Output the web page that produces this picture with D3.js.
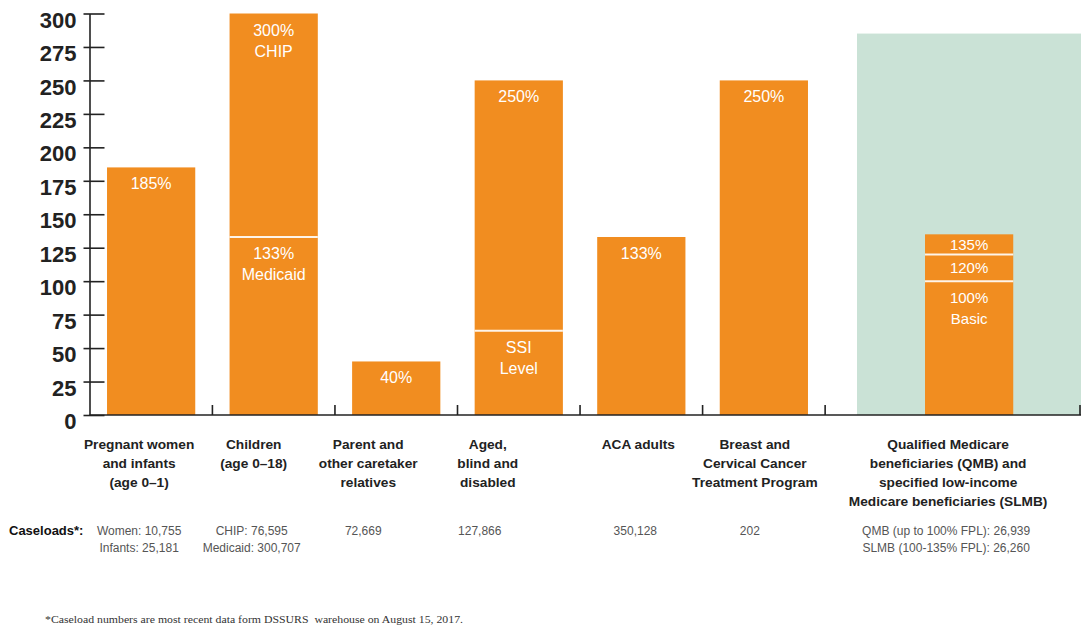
<!DOCTYPE html>
<html>
<head>
<meta charset="utf-8">
<script src="https://cdn.jsdelivr.net/npm/d3@7"></script>
<style>
  html, body { margin: 0; padding: 0; background: #fff; }
  svg { display: block; }
  text { font-family: "Liberation Sans", Arial, Helvetica, sans-serif; }
  text.footnote { font-family: "Liberation Serif", "Times New Roman", serif; }
</style>
</head>
<body>
<svg id="chart" width="1081" height="631"></svg>
<script>
// Income eligibility limits by program (% of federal poverty level)
const categories = [
  ["Pregnant women", "and infants", "(age 0\u20131)"],
  ["Children", "(age 0\u201318)"],
  ["Parent and", "other caretaker", "relatives"],
  ["Aged,", "blind and", "disabled"],
  ["ACA adults"],
  ["Breast and", "Cervical Cancer", "Treatment Program"],
  ["Qualified Medicare", "beneficiaries (QMB) and", "specified low-income", "Medicare beneficiaries (SLMB)"]
];

// Top of each bar
const limits = [185, 300, 40, 250, 133, 250, 135];

// Internal breakpoints inside a bar (bottom to top)
const splits = [[], [133], [], [63], [], [], [100, 120]];

// Text for each segment, bottom to top
const segmentLabels = [
  [["185%"]],
  [["133%", "Medicaid"], ["300%", "CHIP"]],
  [["40%"]],
  [["SSI", "Level"], ["250%"]],
  [["133%"]],
  [["250%"]],
  [["100%", "Basic"], ["120%"], ["135%"]]
];

const caseloads = [
  ["Women: 10,755", "Infants: 25,181"],
  ["CHIP: 76,595", "Medicaid: 300,707"],
  ["72,669"],
  ["127,866"],
  ["350,128"],
  ["202"],
  ["QMB (up to 100% FPL): 26,939", "SLMB (100-135% FPL): 26,260"]
];

const yTicks = [0, 25, 50, 75, 100, 125, 150, 175, 200, 225, 250, 275, 300];
const medicarePanelTop = 285;

const footnote = "*Caseload numbers are most recent data form DSSURS\u00a0 warehouse on August 15, 2017.";

// ---- layout ----
const ORANGE = "#F18D20";
const PANEL = "#CAE2D6";
const AXIS = "#222";
const labelNudge = [-12, -20, -28, -31, -3, -9, -21];
const caseNudge = [-12, -22, -33, -39, -6, -14, -23];

const svg = d3.select("#chart");
const y = d3.scaleLinear().domain([0, 300]).range([415, 13.5]);

// six regular programs share one band scale; Medicare programs sit in their own panel
const xMain = d3.scaleBand()
  .domain(d3.range(6))
  .range([89.5, 825.5])
  .paddingInner(0.28)
  .paddingOuter(0.143);
const xPanel = d3.scaleBand()
  .domain([6])
  .range([857, 1081])
  .padding(0.436);

const bx = i => i < 6 ? xMain(i) : xPanel(i);
const bw = xMain.bandwidth();

// Medicare panel background
svg.append("rect")
  .attr("x", xPanel.range()[0])
  .attr("y", y(medicarePanelTop))
  .attr("width", xPanel.range()[1] - xPanel.range()[0])
  .attr("height", y(0) - y(medicarePanelTop))
  .attr("fill", PANEL);

// bars
const bars = svg.append("g");
limits.forEach((v, i) => {
  bars.append("rect")
    .attr("x", bx(i))
    .attr("y", y(v))
    .attr("width", bw)
    .attr("height", y(0) - y(v))
    .attr("fill", ORANGE);
  splits[i].forEach(s => {
    bars.append("line")
      .attr("x1", bx(i)).attr("x2", bx(i) + bw)
      .attr("y1", y(s)).attr("y2", y(s))
      .attr("stroke", "#fff").attr("stroke-opacity", 0.9)
      .attr("stroke-width", 2);
  });
  // segment labels
  const edges = [0, ...splits[i], v];
  const fs = i === 6 ? 15 : 16;
  segmentLabels[i].forEach((lines, k) => {
    const top = y(edges[k + 1]);
    const bottom = y(edges[k]);
    const h = bottom - top;
    const first = h < 32 ? (top + bottom) / 2 + fs * 0.36 : top + 22;
    const t = bars.append("text")
      .attr("x", bx(i) + bw / 2)
      .attr("text-anchor", "middle")
      .attr("fill", "#fff")
      .attr("font-size", fs);
    lines.forEach((ln, j) => {
      t.append("tspan")
        .attr("x", bx(i) + bw / 2)
        .attr("y", first + j * 21)
        .text(ln);
    });
  });
});

// y axis
const yAxis = svg.append("g")
  .attr("transform", `translate(89.5,0)`)
  .call(d3.axisLeft(y).tickValues(yTicks).tickSize(0).tickPadding(13));
yAxis.select(".domain").attr("stroke", AXIS).attr("stroke-width", 1.6);
yAxis.selectAll(".tick line")
  .attr("x1", -6).attr("x2", 15)
  .attr("stroke", AXIS).attr("stroke-width", 1.6);
yAxis.selectAll(".tick text")
  .attr("fill", AXIS)
  .attr("font-size", 22)
  .attr("font-weight", "bold")
  .attr("dy", "0.62em");

// x axis baseline with separators between programs
svg.append("line")
  .attr("x1", 89.5).attr("x2", 1081)
  .attr("y1", y(0)).attr("y2", y(0))
  .attr("stroke", AXIS).attr("stroke-width", 1.6);
const sepX = d3.range(6).map(i => xMain(i) + bw + xMain.step() * xMain.paddingInner() / 2)
  .concat([xPanel.range()[1] - 1]);
svg.append("g").selectAll("line")
  .data(sepX)
  .join("line")
  .attr("x1", d => d).attr("x2", d => d)
  .attr("y1", y(0) - 10).attr("y2", y(0))
  .attr("stroke", AXIS).attr("stroke-width", 1.6);

// category labels
const catG = svg.append("g");
categories.forEach((lines, i) => {
  const cx = bx(i) + bw / 2 + labelNudge[i];
  const t = catG.append("text")
    .attr("text-anchor", "middle")
    .attr("font-size", 13.7)
    .attr("font-weight", "bold")
    .attr("fill", "#222");
  lines.forEach((ln, j) => {
    t.append("tspan").attr("x", cx).attr("y", 449 + j * 19).text(ln);
  });
});

// caseloads row
svg.append("text")
  .attr("x", 9).attr("y", 535)
  .attr("font-size", 13)
  .attr("font-weight", "bold")
  .attr("fill", "#111")
  .text("Caseloads*:");
const caseG = svg.append("g");
caseloads.forEach((lines, i) => {
  const cx = bx(i) + bw / 2 + caseNudge[i];
  const t = caseG.append("text")
    .attr("text-anchor", "middle")
    .attr("font-size", 12)
    .attr("fill", "#555");
  lines.forEach((ln, j) => {
    t.append("tspan").attr("x", cx).attr("y", 535 + j * 17).text(ln);
  });
});

// footnote
svg.append("text")
  .attr("class", "footnote")
  .attr("x", 45).attr("y", 623)
  .attr("font-size", 10.5)
  .attr("fill", "#333")
  .attr("textLength", 418)
  .attr("lengthAdjust", "spacingAndGlyphs")
  .text(footnote);
</script>
</body>
</html>
